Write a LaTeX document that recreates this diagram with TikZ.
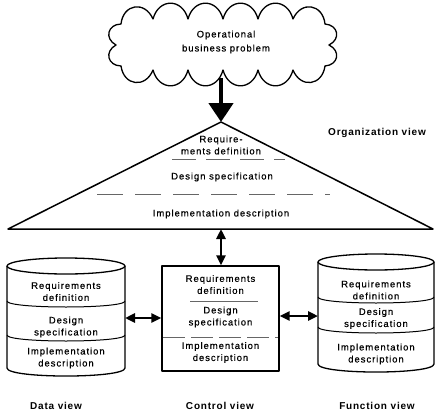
\documentclass[tikz,border=0pt]{standalone}
\usepackage{fontspec}
\usetikzlibrary{arrows.meta}
\newfontfamily\bodyfont{Liberation Sans}[LetterSpace=10, FakeBold=0.4]
\newfontfamily\headfont{Liberation Sans}[LetterSpace=8]
\begin{document}
\begin{tikzpicture}[x=1pt,y=-1pt,
  txt/.style={font=\bodyfont\fontsize{9.5}{12}\selectfont, align=center, inner sep=0pt},
  head/.style={font=\headfont\bfseries\fontsize{10}{12}\selectfont, inner sep=0pt},
  outline/.style={draw, line width=1.3pt, line join=round},
  sep/.style={line width=0.7pt, draw=black!60},
  bump/.style={bend left=75, looseness=1.6},
  bigarrow/.style={line width=4.5pt, -{Triangle[width=24pt,length=19pt]}},
  dblarrow/.style={line width=2.5pt, {Triangle[width=9pt,length=10pt]}-{Triangle[width=9pt,length=10pt]}},
  hole/.style={inner sep=0pt, outer sep=0pt}
]
\useasboundingbox (0,0) rectangle (439,415);

% cloud with the business problem
\draw[outline] (121,24) to[bump] (153,19) to[bump] (188,19) to[bump] (223,19)
  to[bump] (258,19) to[bump] (293,19) to[bump] (325,24) to[bump] (329,45)
  to[bump] (325,66) to[bump] (293,70) to[bump] (258,70) to[bump] (223,70)
  to[bump] (188,70) to[bump] (153,70) to[bump] (121,66) to[bump] (116,45)
  to[bump] (121,24) -- cycle;
\node[hole, minimum width=221pt, minimum height=72pt,
      font=\bodyfont\fontsize{9.5}{14}\selectfont, align=center] (cloud) at (226,42)
  {Operational\\business problem};

% organization view triangle
\coordinate (apex) at (221,122);
\coordinate (triL) at (8,229);
\coordinate (triR) at (433,229);
\coordinate (tribase) at (221,229);
\draw[outline, line width=1.5pt] (apex) -- (triR) -- (triL) -- cycle;
\draw[sep, dash pattern=on 24pt off 10pt] (172,159) -- (285,159);
\draw[sep, dash pattern=on 26pt off 12pt] (97,194) -- (330,194);
\node[txt] (orgReq) at (221,145) {Require-\\ments definition};
\node[txt] (orgDes) at (222,177) {Design specification};
\node[txt] (orgImp) at (221,214) {Implementation description};
\node[head] (orgLbl) at (377,133) {Organization view};

\draw[bigarrow] (cloud.south -| apex) -- (apex);

% control view box
\node[outline, line width=1.2pt, minimum width=117pt, minimum height=105pt, inner sep=0pt] (ctrl) at (220.5,318.5) {};
\draw[sep] (190,301) -- (258,301);
\draw[sep, dash pattern=on 22pt off 6pt] (163,337) -- (278,337);
\node[txt] (ctrlReq) at (220.5,284.5) {Requirements\\definition};
\node[txt] (ctrlDes) at (220.5,317) {Design\\specification};
\node[txt] (ctrlImp) at (220.5,352.5) {Implementation\\description};
\node[head] (ctrlLbl) at (220,406) {Control view};

% data view cylinder
\draw[outline] (7,266) -- (7,368) .. controls (7,378.7) and (125,378.7) .. (125,368) -- (125,266);
\draw[outline] (66,266) ellipse [x radius=59pt, y radius=8pt];
\draw[line width=1pt] (7,301) .. controls (7,309) and (125,309) .. (125,301);
\draw[line width=1pt] (7,335) .. controls (7,343) and (125,343) .. (125,335);
\node[hole, minimum width=118pt, minimum height=100pt] (data) at (66,318) {};
\node[txt] (dataReq) at (66,291.5) {Requirements\\definition};
\node[txt] (dataDes) at (66,327) {Design\\specification};
\node[txt] (dataImp) at (66,358) {Implementation\\description};
\node[head] (dataLbl) at (56,406) {Data view};

% function view cylinder
\draw[outline] (318,262) -- (318,364) .. controls (318,374.7) and (434,374.7) .. (434,364) -- (434,262);
\draw[outline] (376,262) ellipse [x radius=58pt, y radius=8pt];
\draw[line width=1pt] (318,297) .. controls (318,305) and (434,305) .. (434,297);
\draw[line width=1pt] (318,327) .. controls (318,335) and (434,335) .. (434,327);
\node[hole, minimum width=116pt, minimum height=100pt] (func) at (376,316) {};
\node[txt] (funcReq) at (376,290) {Requirements\\definition};
\node[txt] (funcDes) at (376,318.5) {Design\\specification};
\node[txt] (funcImp) at (376,354) {Implementation\\description};
\node[head] (funcLbl) at (377,406) {Function view};

% links between the views
\draw[dblarrow] (tribase) -- (tribase |- ctrl.north);
\draw[dblarrow] (data.east) -- (data.east -| ctrl.west);
\draw[dblarrow] (ctrl.east |- func.west) -- (func.west);
\end{tikzpicture}
\end{document}
